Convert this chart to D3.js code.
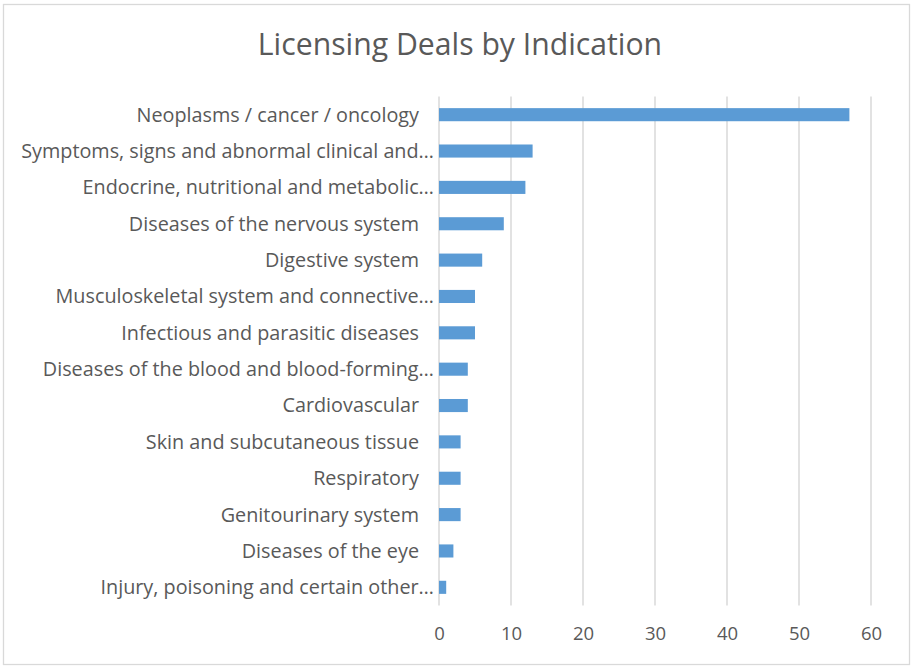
<!DOCTYPE html>
<html><head><meta charset="utf-8">
<script src="https://cdn.jsdelivr.net/npm/d3@7"></script>
<style>
html,body{margin:0;padding:0;background:#fff;}
text{font-family:"Open Sans",sans-serif;fill:#595959;}
</style></head>
<body>
<svg id="chart" width="916" height="669"></svg>
<script>
const title = "Licensing Deals by Indication";
const categories = [
  "Neoplasms / cancer / oncology",
  "Symptoms, signs and abnormal clinical and…",
  "Endocrine, nutritional and metabolic…",
  "Diseases of the nervous system",
  "Digestive system",
  "Musculoskeletal system and connective…",
  "Infectious and parasitic diseases",
  "Diseases of the blood and blood-forming…",
  "Cardiovascular",
  "Skin and subcutaneous tissue",
  "Respiratory",
  "Genitourinary system",
  "Diseases of the eye",
  "Injury, poisoning and certain other…"
];
const values = [57, 13, 12, 9, 6, 5, 5, 4, 4, 3, 3, 3, 2, 1];
const tickValues = [0, 10, 20, 30, 40, 50, 60];

(function () {
const svg = d3.select("#chart");
svg.append("rect").attr("x", 3.5).attr("y", 4.5).attr("width", 906).attr("height", 660)
  .attr("fill", "#fff").attr("stroke", "#d9d9d9").attr("stroke-width", 1.3);

const pLeft = 439, pRight = 871, pTop = 96.5, pBottom = 605.5;
const x = d3.scaleLinear().domain([0, 60]).range([pLeft, pRight]);
const y = d3.scaleBand().domain(categories).range([pTop, pBottom]).paddingInner(0.64).paddingOuter(0.32);

svg.append("text").attr("x", 460).attr("y", 55).attr("text-anchor", "middle")
  .style("font-size", "30.2px").text(title);

// gridlines
svg.append("g").selectAll("line").data(tickValues).join("line")
  .attr("x1", d => x(d)).attr("x2", d => x(d)).attr("y1", pTop).attr("y2", pBottom)
  .attr("stroke", "#d9d9d9").attr("stroke-width", 1.5);

// x axis labels
const xAxis = d3.axisBottom(x).tickValues(tickValues).tickSize(0).tickPadding(0).tickFormat(d3.format("d"));
const gx = svg.append("g").attr("transform", `translate(0,${pBottom})`).call(xAxis);
gx.select(".domain").remove();
gx.selectAll("text").attr("y", 28).attr("dy", "0.35em")
  .style("font-size", "18.5px").style("font-family", "'Open Sans',sans-serif").attr("fill", "#595959");

// bars
svg.append("g").selectAll("rect").data(categories).join("rect")
  .attr("x", x(0)).attr("y", d => y(d))
  .attr("width", (d, i) => x(values[i]) - x(0)).attr("height", y.bandwidth())
  .attr("fill", "#5b9bd5");

// category labels
svg.append("g").selectAll("text").data(categories).join("text")
  .attr("x", d => d.endsWith("…") ? x(0) - 5 : x(0) - 20)
  .attr("y", d => y(d) + y.bandwidth() / 2).attr("dy", "0.35em")
  .attr("text-anchor", "end").style("font-size", "19.8px").text(d => d);
})();
</script>
</body></html>
